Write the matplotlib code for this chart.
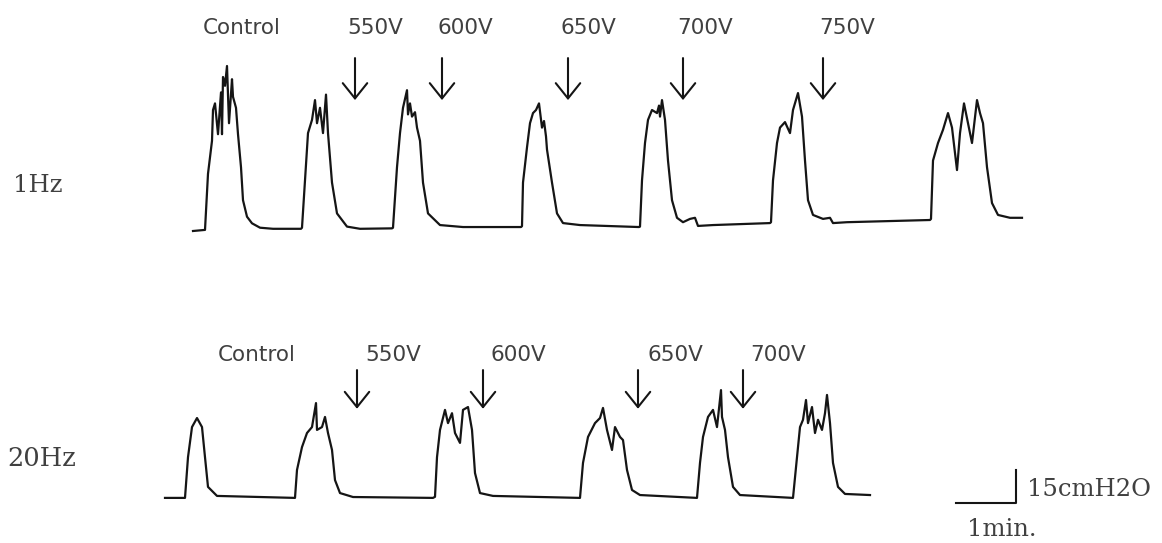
import matplotlib
matplotlib.use("Agg")
import matplotlib.pyplot as plt

# 1 Hz recording: time (s) and pressure above baseline (cmH2O)
hz1_time = [0, 12, 15, 19, 20, 22, 25, 28, 29, 30, 32, 34, 36, 39, 40, 43, 45, 48, 50, 54, 59, 67, 80,
            108, 109, 112, 115, 119, 122, 124, 127, 130, 133, 135, 139, 144, 154, 167,
            199, 200, 204, 207, 210, 212, 214, 215, 217, 219, 222, 224, 227, 230, 235, 247, 270,
            328, 329, 330, 334, 337, 340, 343, 346, 349, 351, 353, 354, 359, 364, 370, 387,
            446, 447, 449, 452, 455, 459, 464, 466, 467, 469, 472, 475, 479, 484, 490, 497, 502, 505, 520, 577,
            578, 580, 584, 587, 592, 597, 600, 605, 609, 612, 615, 620, 630, 637, 640, 654, 737,
            738, 740, 745, 750, 755, 759, 764, 767, 771, 775, 779, 784, 787, 790, 794, 799, 805, 817, 829]
hz1_pressure = [0, 0.5, 26, 41, 55, 58, 44, 63, 44, 70, 66, 75, 49, 69, 61, 56, 44, 29, 14, 6.5, 3.5, 1.5, 1,
                1, 1.5, 23, 44.5, 50.5, 59.5, 49, 56, 44.5, 62, 44.5, 22, 8, 2, 1,
                1.2, 1.5, 29, 44.5, 56, 60, 64, 53, 58, 52, 54, 47, 41, 22, 8, 2.7, 1.8,
                1.8, 2.2, 22, 38, 49, 53.6, 55, 58, 47, 50, 43, 37, 22, 8, 3.6, 2.7,
                1.8, 2, 23, 40, 50.5, 55, 53.6, 57, 52, 59.5, 50.5, 32, 14, 6, 4, 5.5, 6, 2.3, 2.7, 3.6,
                4, 23, 40, 47, 49.5, 44.5, 55, 62.7, 52, 32, 14, 7.3, 5.5, 6, 3.6, 4, 5,
                5.5, 32, 40, 46, 53.6, 47, 27.7, 44.5, 58, 49, 40, 59.5, 53.6, 49, 29, 12.7, 7.3, 6, 6]
hz1_stim_time = [162, 249, 375, 490, 630]
hz1_stim_label = ['550V', '600V', '650V', '700V', '750V']

# 20 Hz recording
hz20_time = [0, 20, 23, 27, 32, 37, 40, 43, 52, 130,
             132, 137, 142, 147, 151, 152, 157, 160, 163, 167, 170, 175, 188, 268,
             270, 272, 275, 280, 283, 287, 290, 295, 298, 303, 307, 310, 315, 328, 415,
             418, 423, 430, 435, 438, 442, 447, 450, 455, 458, 462, 467, 475, 532,
             535, 538, 543, 548, 552, 556, 557, 560, 563, 568, 575, 628,
             632, 635, 638, 641, 643, 647, 650, 653, 657, 660, 662, 665, 668, 673, 680, 705]
hz20_pressure = [0.5, 0.5, 19, 32.7, 36.8, 32.7, 19, 5.5, 1.4, 0.5,
                 13.2, 23.6, 30, 32.7, 43.6, 31.4, 32.7, 37.3, 30, 22.3, 8.6, 2.7, 0.9, 0.5,
                 1, 19, 31.4, 40.5, 34.5, 39, 30, 25.5, 40.5, 41.8, 31.4, 11.8, 2.7, 1.4, 0.5,
                 16.4, 28.2, 34.5, 36.8, 41.4, 31.4, 22.3, 32.7, 28.2, 26.8, 13.2, 4.1, 1.8, 0.5,
                 16.4, 28.2, 37.3, 40.5, 32.7, 49.5, 37.3, 31.4, 19, 5.5, 1.8, 0.5,
                 19, 32.7, 36, 45, 34.5, 41.8, 30, 36, 31.4, 39, 47.3, 34.5, 16.4, 5.5, 2.3, 1.8]
hz20_stim_time = [192, 318, 473, 578]
hz20_stim_label = ['550V', '600V', '650V', '700V']

# figure geometry (pixels) and recorder scale
W, H = 1162, 543
PX_PER_S = 1.0
PX_PER_CM = 2.2
INK = '#151515'
TXT = '#404040'


def make_axes(fig, left_px, base_px):
    ax = fig.add_axes([0, 0, 1, 1])
    ax.set_xlim(-left_px / PX_PER_S, (W - left_px) / PX_PER_S)
    ax.set_ylim((base_px - H) / PX_PER_CM, base_px / PX_PER_CM)
    ax.axis('off')
    ax.patch.set_alpha(0)
    return ax


def stim_arrows(ax, times, labels, tail, tip, label_y, label_x, control_x):
    for t, lab, lx in zip(times, labels, label_x):
        ax.annotate('', xy=(t, tip), xytext=(t, tail),
                    arrowprops=dict(arrowstyle='->,head_length=0.5,head_width=0.4',
                                    lw=1.5, color=INK, shrinkA=0, shrinkB=0,
                                    mutation_scale=22))
        ax.text(lx, label_y, lab, ha='center', va='center', fontsize=15.5,
                family='DejaVu Sans', color=TXT)
    ax.text(control_x, label_y, 'Control', ha='center', va='center', fontsize=15.5,
            family='DejaVu Sans', color=TXT)


fig = plt.figure(figsize=(W / 100, H / 100), dpi=100)
fig.patch.set_facecolor('white')

# 1 Hz panel
ax1 = make_axes(fig, 193, 231)
ax1.plot(hz1_time, hz1_pressure, color=INK, lw=1.6)
stim_arrows(ax1, hz1_stim_time, hz1_stim_label, tail=78.6, tip=59.5, label_y=92.5,
            label_x=[182, 272, 395, 512, 654], control_x=49)

# 20 Hz panel
ax2 = make_axes(fig, 165, 499)
ax2.plot(hz20_time, hz20_pressure, color=INK, lw=1.6)
stim_arrows(ax2, hz20_stim_time, hz20_stim_label, tail=58.6, tip=41.0, label_y=65.5,
            label_x=[228, 353, 510, 613], control_x=92)

# scale bar: 1 min, 15 cmH2O
ax2.plot([791, 851, 851], [-1.8, -1.8, 13.2], color=INK, lw=1.5)
ax2.text(862, 4.5, '15cmH2O', ha='left', va='center', fontsize=17.5,
         family='DejaVu Serif', color=TXT)
ax2.text(802, -14, '1min.', ha='left', va='center', fontsize=17.5,
         family='DejaVu Serif', color=TXT)

fig.text(13 / W, 1 - 186 / H, '1Hz', ha='left', va='center', fontsize=17.5,
         family='DejaVu Serif', color=TXT)
fig.text(7 / W, 1 - 459 / H, '20Hz', ha='left', va='center', fontsize=18.5,
         family='DejaVu Serif', color=TXT)

fig.savefig('out.png', dpi=100)
